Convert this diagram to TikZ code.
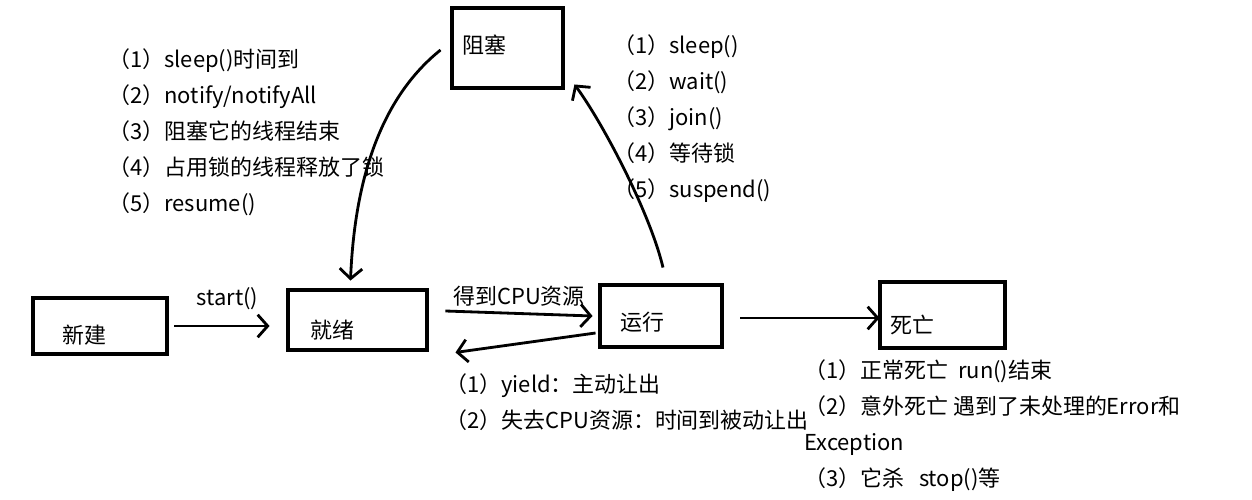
\documentclass[tikz,border=0pt]{standalone}
\usepackage{fontspec}
\setmainfont{Noto Sans CJK SC}
\usetikzlibrary{positioning,arrows.meta,calc}

\begin{document}
\begin{tikzpicture}[
  x=0.02cm, y=-0.02cm,
  state/.style={draw, line width=2.8pt, inner sep=0pt, font=\fontsize{12}{14}\selectfont},
  notes/.style={align=left, inner sep=0pt, font=\fontsize{12.5}{20.5}\selectfont},
  arr/.style={line width=1.6pt, -{Straight Barb[length=2mm,width=4.5mm]}},
  lbl/.style={font=\fontsize{12.5}{14}\selectfont, inner sep=0pt}
]
  \useasboundingbox (0,0) rectangle (1252,500);

  % states
  \node[state, minimum width=2.68cm, minimum height=1.12cm] (new) at (100,326) {};
  \node[state, minimum width=2.78cm, minimum height=1.2cm] (ready) at (357.5,320) {};
  \node[state, minimum width=2.22cm, minimum height=1.6cm] (block) at (507.5,48) {};
  \node[state, minimum width=2.44cm, minimum height=1.24cm] (run) at (661,316) {};
  \node[state, minimum width=2.5cm, minimum height=1.32cm] (dead) at (942.5,315) {};

  \node[lbl, anchor=west] (newtxt) at (62,335) {新建};
  \node[lbl, anchor=west] (readytxt) at (310,330) {就绪};
  \node[lbl, anchor=west] (blocktxt) at (462,45) {阻塞};
  \node[lbl, anchor=west] (runtxt) at (620,322) {运行};
  \node[lbl, anchor=west] (deadtxt) at (890,325) {死亡};

  % transitions
  \draw[arr, shorten <=0.1cm, shorten >=0.32cm] (new.east) -- (new.east -| ready.west)
    node[lbl, midway, above=0.3cm] (startlbl) {start()};
  \draw[arr] ([shift={(16,-9)}]ready.east) -- ([shift={(-5,0)}]run.west)
    node[lbl, midway, above=0.12cm] (cpulbl) {得到CPU资源};
  \draw[arr] ([shift={(-2,17)}]run.west) -- ([shift={(26,0)}]ready.south east);
  \draw[arr] ([shift={(16,2)}]run.east) -- ([shift={(2,3)}]dead.west);
  \draw[arr] ([shift={(-9,2)}]block.west) .. controls +(-50,40) and +(5,-120)
    .. ([shift={(-7,-7)}]ready.north);
  \draw[arr] ([shift={(2,-15)}]run.north) .. controls +(-13,-55) and +(28,38)
    .. ([shift={(9,-6)}]block.south east);

  % notes
  \node[notes, anchor=west] (wakenotes) at (108,132.5)
    {（1）sleep()时间到\\（2）notify/notifyAll\\（3）阻塞它的线程结束\\（4）占用锁的线程释放了锁\\（5）resume()};
  \node[notes, anchor=west] (waitnotes) at (613,119)
    {（1）sleep()\\（2）wait()\\（3）join()\\（4）等待锁\\（5）suspend()};
  \node[notes, anchor=west] (yieldnotes) at (445,402)
    {（1）yield：主动让出\\（2）失去CPU资源：时间到被动让出};
  \node[notes, anchor=west] (deadnotes) at (804,425.5)
    {（1）正常死亡\ \ run()结束\\（2）意外死亡 遇到了未处理的Error和\\Exception\\（3）它杀\ \ \ stop()等};
\end{tikzpicture}
\end{document}
